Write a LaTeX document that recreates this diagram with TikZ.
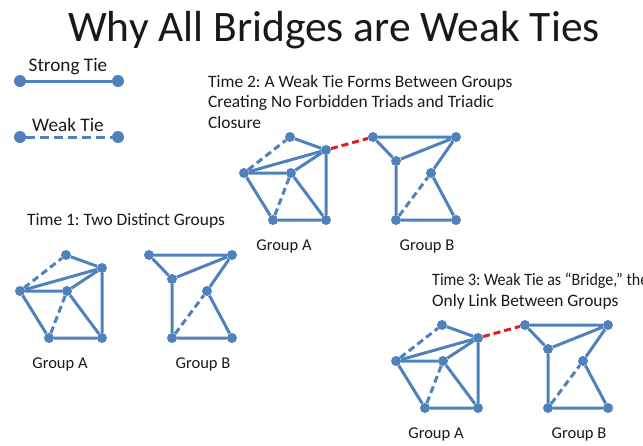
\documentclass[tikz,border=0pt]{standalone}
\usepackage{fontspec}
\setmainfont{Carlito}
\usepackage{tikz}
\usetikzlibrary{positioning, arrows.meta, calc}
\definecolor{TieBlue}{RGB}{79,129,189}
\definecolor{BridgeRed}{RGB}{224,30,30}
\definecolor{TextBlack}{RGB}{25,25,25}
\frenchspacing

\tikzset{
  dot/.style={circle, fill=TieBlue, inner sep=0pt, minimum size=10pt},
  bigdot/.style={dot, minimum size=12pt},
  strongtie/.style={TieBlue, line width=3pt},
  weaktie/.style={strongtie, dash pattern=on 7pt off 4pt},
  bridgetie/.style={BridgeRed, line width=3pt, dash pattern=on 7pt off 4pt},
  caption/.style={text=TextBlack, font=\fontsize{17.4}{20.7}\selectfont, align=left, inner sep=0pt},
  grplabel/.style={text=TextBlack, font=\fontsize{16.5}{19}\selectfont, inner sep=0pt},
  keylabel/.style={text=TextBlack, font=\fontsize{19.2}{22}\selectfont, inner sep=0pt}
}

% group A: six members, two weak ties
\newcommand{\groupA}[1]{%
  \node[dot] (#1a1) at (66,255) {};
  \node[dot] (#1a2) at (102,268) {};
  \node[dot] (#1a3) at (20,291) {};
  \node[dot] (#1a4) at (67,291) {};
  \node[dot] (#1a5) at (49,338) {};
  \node[dot] (#1a6) at (102,338) {};
  \draw[weaktie] (#1a3) -- (#1a1);
  \draw[weaktie] (#1a5) -- (#1a4);
  \draw[strongtie] (#1a1) -- (#1a2) -- (#1a6) -- (#1a5) -- (#1a3) -- (#1a2);
  \draw[strongtie] (#1a3) -- (#1a4) -- (#1a2);
  \draw[strongtie] (#1a4) -- (#1a6);
  \node[grplabel] (#1alab) at (60,364) {Group A};
}
% group B: six members, one weak tie
\newcommand{\groupB}[1]{%
  \node[dot] (#1b1) at (149,255) {};
  \node[dot] (#1b2) at (232,255) {};
  \node[dot] (#1b3) at (172,279) {};
  \node[dot] (#1b4) at (207,291) {};
  \node[dot] (#1b5) at (172,338) {};
  \node[dot] (#1b6) at (232,338) {};
  \draw[weaktie] (#1b5) -- (#1b4);
  \draw[strongtie] (#1b3) -- (#1b1) -- (#1b2) -- (#1b3) -- (#1b5) -- (#1b6) -- (#1b4) -- (#1b2);
  \node[grplabel] (#1blab) at (203,364) {Group B};
}

\begin{document}
\begin{tikzpicture}[x=1pt, y=-1pt]
  \useasboundingbox (0,0) rectangle (643,445);

  \node[text=TextBlack, font=\fontsize{43.5}{50}\selectfont, inner sep=0pt, anchor=base] (title) at (334,41) {Why All Bridges are Weak Ties};

  % legend
  \node[bigdot] (s1) at (20,81) {};
  \node[bigdot] (s2) at (118,81) {};
  \draw[strongtie] (s1) -- (s2);
  \node[keylabel] (slab) at (68,67) {Strong Tie};
  \node[bigdot] (w1) at (20,137) {};
  \node[bigdot] (w2) at (118,137) {};
  \draw[TieBlue, line width=3pt, dash pattern=on 9pt off 5pt] (w1) -- (w2);
  \node[keylabel] (wlab) at (68,125) {Weak Tie};

  % time 1
  \node[caption, anchor=west] (cap1) at (27,221) {Time 1: Two Distinct Groups};
  \groupA{p}
  \groupB{p}

  % time 2
  \node[caption, anchor=north west] (cap2) at (208,75) {Time 2: A Weak Tie Forms Between Groups\\Creating No Forbidden Triads and Triadic\\Closure};
  \begin{scope}[shift={(224,-118)}]
    \groupA{q}
    \groupB{q}
  \end{scope}
  \draw[bridgetie] (qa2) -- (qb1);

  % time 3
  \node[caption, anchor=north west] (cap3) at (432,273) {\scalebox{0.92}[1]{Time 3: Weak Tie as “Bridge,” the}\\Only Link Between Groups};
  \begin{scope}[shift={(376,70)}]
    \groupA{r}
    \groupB{r}
  \end{scope}
  \draw[bridgetie] (ra2) -- (rb1);
\end{tikzpicture}
\end{document}
